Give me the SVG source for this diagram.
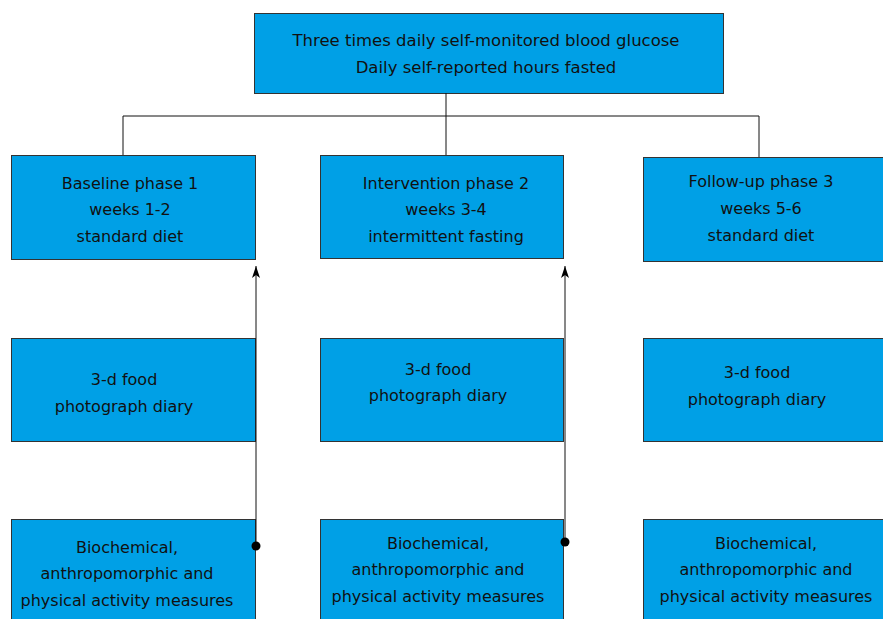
<svg xmlns="http://www.w3.org/2000/svg" width="883" height="619" viewBox="0 0 883 619">
<defs>
<style>
.box{fill:#00A0E6;stroke:#333;stroke-width:1}
.t{font-family:"DejaVu Sans",Verdana,sans-serif;font-size:16px;fill:#111;text-anchor:middle}
.c{fill:none;stroke:#111;stroke-width:1}
</style>
<marker id="ah" viewBox="0 0 12 8" refX="12" refY="4" markerWidth="12" markerHeight="8" markerUnits="userSpaceOnUse" orient="auto">
<path d="M0,0 L12,4 L0,8 L3,4 Z" fill="#000"/>
</marker>
</defs>
<rect width="883" height="619" fill="#fff"/>
<g id="top"><rect class="box" x="254.5" y="13.5" width="469" height="80"/>
<text class="t" x="486" y="46" style="font-size:16.5px">Three times daily self-monitored blood glucose</text>
<text class="t" x="486" y="73" style="font-size:16.5px">Daily self-reported hours fasted</text></g>
<g id="phase1"><rect class="box" x="11.5" y="155.5" width="244" height="104"/>
<text class="t" x="130" y="189">Baseline phase 1</text>
<text class="t" x="130" y="215">weeks 1-2</text>
<text class="t" x="130" y="242">standard diet</text></g>
<g id="phase2"><rect class="box" x="320.5" y="155.5" width="243" height="103"/>
<text class="t" x="446" y="189">Intervention phase 2</text>
<text class="t" x="446" y="215">weeks 3-4</text>
<text class="t" x="446" y="242">intermittent fasting</text></g>
<g id="phase3"><rect class="box" x="643.5" y="157.5" width="245" height="104"/>
<text class="t" x="761" y="187">Follow-up phase 3</text>
<text class="t" x="761" y="214">weeks 5-6</text>
<text class="t" x="761" y="241">standard diet</text></g>
<g id="diary1"><rect class="box" x="11.5" y="338.5" width="244" height="103"/>
<text class="t" x="124" y="385">3-d food</text>
<text class="t" x="124" y="412">photograph diary</text></g>
<g id="diary2"><rect class="box" x="320.5" y="338.5" width="243" height="103"/>
<text class="t" x="438" y="375">3-d food</text>
<text class="t" x="438" y="401">photograph diary</text></g>
<g id="diary3"><rect class="box" x="643.5" y="338.5" width="245" height="103"/>
<text class="t" x="757" y="378">3-d food</text>
<text class="t" x="757" y="405">photograph diary</text></g>
<g id="bio1"><rect class="box" x="11.5" y="519.5" width="244" height="105"/>
<text class="t" x="127" y="553">Biochemical,</text>
<text class="t" x="127" y="579">anthropomorphic and</text>
<text class="t" x="127" y="606">physical activity measures</text></g>
<g id="bio2"><rect class="box" x="320.5" y="519.5" width="243" height="105"/>
<text class="t" x="438" y="549">Biochemical,</text>
<text class="t" x="438" y="575">anthropomorphic and</text>
<text class="t" x="438" y="602">physical activity measures</text></g>
<g id="bio3"><rect class="box" x="643.5" y="519.5" width="245" height="105"/>
<text class="t" x="766" y="549">Biochemical,</text>
<text class="t" x="766" y="575">anthropomorphic and</text>
<text class="t" x="766" y="602">physical activity measures</text></g>
<g id="connectors">
<path class="c" d="M446,93 V155 M123,116 H759 M123,116 V155 M759,116 V157"/>
<line class="c" x1="256" y1="546" x2="256" y2="266" marker-end="url(#ah)"/>
<circle cx="256" cy="546" r="4.5" fill="#000"/>
<line class="c" x1="565" y1="542" x2="565" y2="266" marker-end="url(#ah)"/>
<circle cx="565" cy="542" r="4.5" fill="#000"/>
</g>
</svg>
